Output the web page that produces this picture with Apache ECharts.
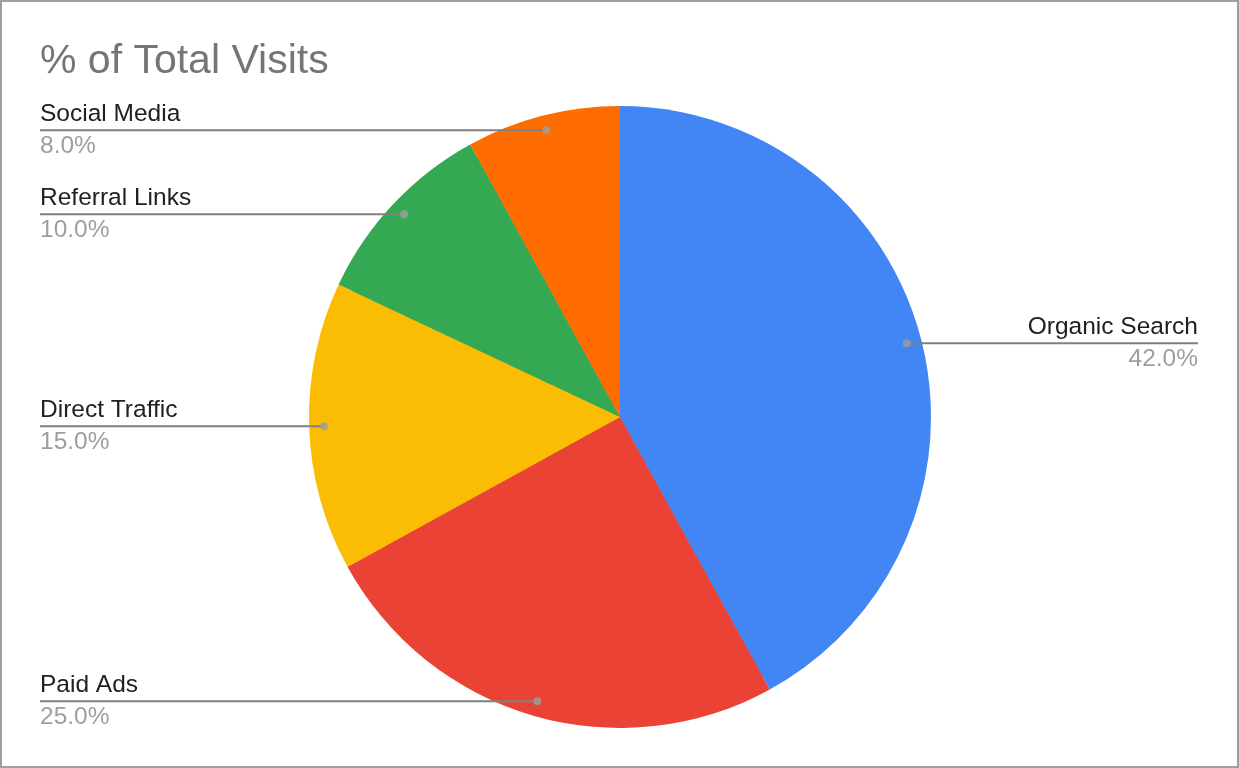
<!DOCTYPE html>
<html>
<head>
<meta charset="utf-8">
<style>
	html, body { margin: 0; padding: 0; background: #fff; }
	#chartVisits { width: 1239px; height: 768px; }
</style>
<script src="https://cdn.jsdelivr.net/npm/echarts@6/dist/echarts.min.js"></script>
</head>
<body>
<div id="chartVisits"></div>
<script>
	//------------------------数据-开始------------------//
	var categories = ['Organic Search', 'Paid Ads', 'Direct Traffic', 'Referral Links', 'Social Media'];
	var shares = [42, 25, 15, 10, 8];
	var sliceColors = ['#4285F4', '#EA4335', '#FBBC04', '#34A853', '#FF6D01'];
	var titleText = '% of Total Visits';
	//------------------------数据-结束------------------//

	var fontName = '"Liberation Sans", Arial, sans-serif';
	var pieCenter = [620, 417];
	var pieRadius = 311;
	var dotRatio = 0.952; //圆点在半径上的位置

	var myChart = echarts.init(document.getElementById('chartVisits'));

	var pieData = [], dotData = [];
	var total = 0, running = 0;
	for (var i = 0; i < shares.length; i++) { total += shares[i]; }
	for (var i = 0; i < categories.length; i++) {
		pieData.push({ name: categories[i], value: shares[i], itemStyle: { color: sliceColors[i] } });
		//扇区中点角度（百分比）
		dotData.push([dotRatio, (running + shares[i] / 2) / total * 100]);
		running += shares[i];
	}

	var options = {
		animation: false,
		title: {
			text: titleText,
			left: 40,
			top: 41,
			padding: 0,
			textStyle: {
				fontFamily: fontName,
				fontSize: 41,
				fontWeight: 'normal',
				color: '#757575'
			}
		},
		graphic: [{
			type: 'rect',
			shape: { x: 1, y: 1, width: 1237, height: 766 },
			style: { fill: 'none', stroke: '#9e9e9e', lineWidth: 2 },
			silent: true
		}],
		polar: { center: pieCenter, radius: pieRadius },
		angleAxis: { type: 'value', min: 0, max: 100, startAngle: 90, clockwise: true, show: false },
		radiusAxis: { type: 'value', min: 0, max: 1, show: false },
		series: [
			{
				name: 'visits',
				type: 'pie',
				center: pieCenter,
				radius: pieRadius,
				startAngle: 90,
				clockwise: true,
				silent: true,
				label: { show: false },
				labelLine: { show: false },
				itemStyle: { borderWidth: 0 },
				data: pieData
			},
			{
				//透明的饼图，只用来放标签和引导线
				name: 'labels',
				type: 'pie',
				center: pieCenter,
				radius: pieRadius * dotRatio,
				startAngle: 90,
				clockwise: true,
				silent: true,
				z: 3,
				itemStyle: { color: 'rgba(0,0,0,0)', borderWidth: 0 },
				label: {
					show: true,
					position: 'outside',
					fontFamily: fontName,
					formatter: function (p) {
						return '{n|' + p.name + '}\n{v|' + p.percent.toFixed(1) + '%}';
					},
					rich: {
						n: { fontFamily: fontName, fontSize: 24.5, color: '#212121', lineHeight: 32 },
						v: { fontFamily: fontName, fontSize: 24.5, color: '#9e9e9e', lineHeight: 32 }
					}
				},
				labelLine: {
					show: true,
					length: 5,
					length2: 5,
					lineStyle: { color: '#808080', width: 2 }
				},
				labelLayout: function (params) {
					var p = params.labelLinePoints[0];
					var w = myChart.getWidth();
					var isLeft = p[0] < w / 2;
					var x = isLeft ? 40 : w - 41;
					return {
						x: x,
						y: p[1],
						align: isLeft ? 'left' : 'right',
						verticalAlign: 'middle',
						labelLinePoints: [p, p, [x, p[1]]]
					};
				},
				data: pieData
			},
			{
				name: 'dots',
				type: 'scatter',
				coordinateSystem: 'polar',
				symbol: 'circle',
				symbolSize: 8,
				silent: true,
				z: 5,
				itemStyle: { color: '#9e9e9e' },
				data: dotData
			}
		]
	};
	myChart.setOption(options);
</script>
</body>
</html>
